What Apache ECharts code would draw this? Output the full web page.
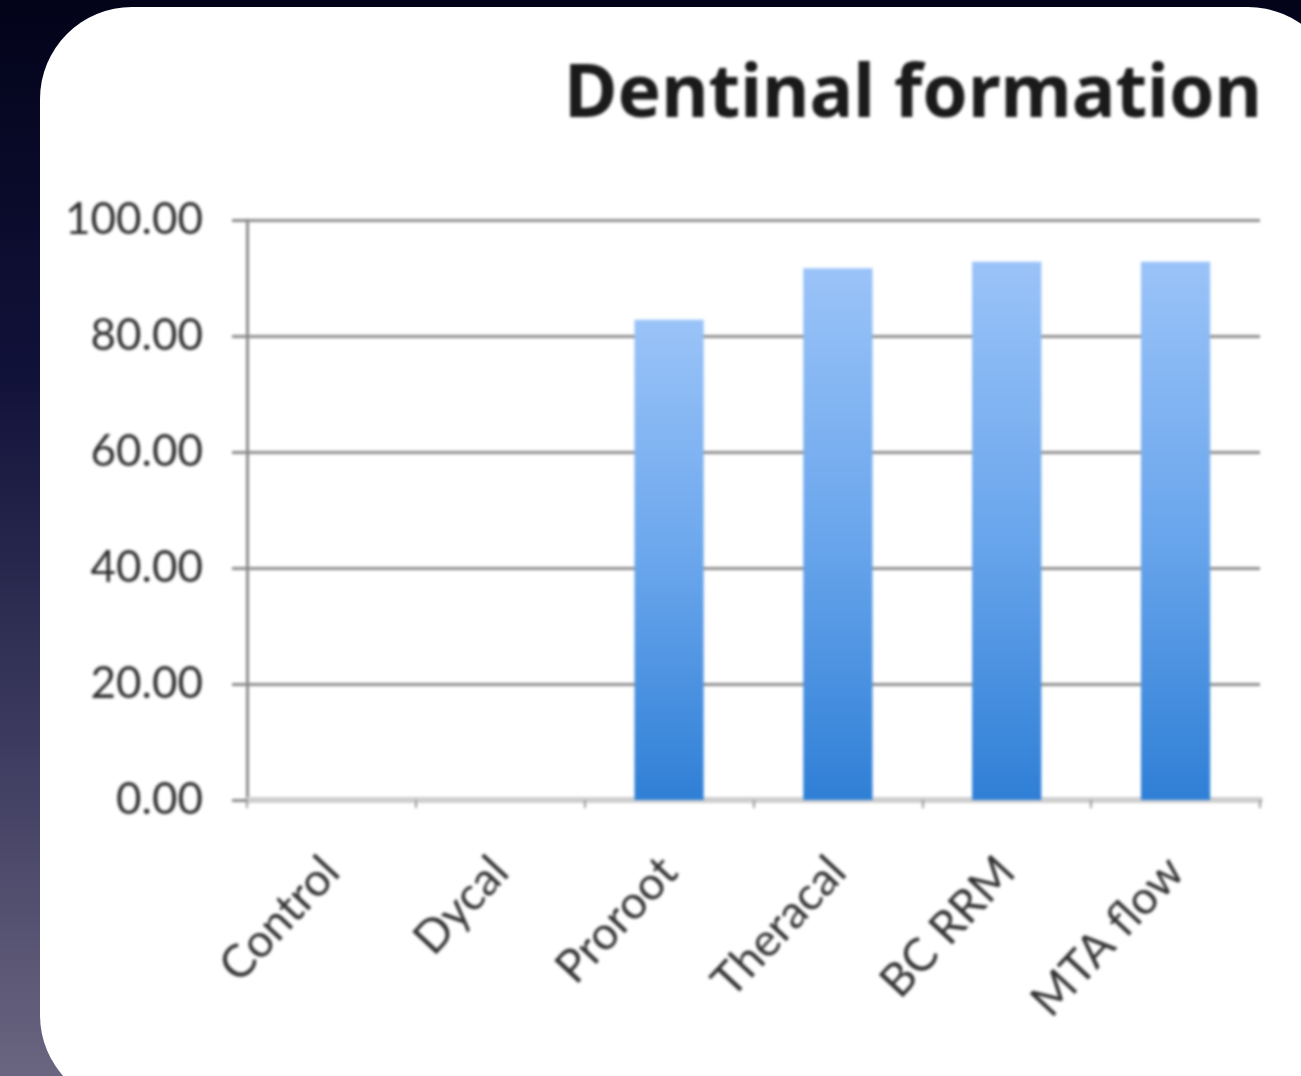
<!DOCTYPE html>
<html>
<head>
<meta charset="utf-8">
<script src="https://cdn.jsdelivr.net/npm/echarts@6/dist/echarts.min.js"></script>
<style>
  html, body { margin: 0; padding: 0; }
  body {
    width: 1301px; height: 1076px; overflow: hidden; position: relative;
    background: linear-gradient(180deg, #03031a 0%, #11123a 35%, #3e3c60 70%, #6a6580 100%);
  }
  #panel {
    position: absolute; left: 40px; top: 7px; width: 1300px; height: 1100px;
    background: #fff; border-radius: 92px;
  }
  #chart { position: absolute; left: 0; top: 0; width: 1301px; height: 1076px; filter: blur(1.4px); }
</style>
</head>
<body>
<div id="panel"></div>
<div id="chart"></div>
<script>
const categories = ['Control', 'Dycal', 'Proroot', 'Theracal', 'BC RRM', 'MTA flow']
const values = [0, 0, 82.8, 91.7, 92.8, 92.8]
const yTicks = [0, 20, 40, 60, 80, 100]

const chart = echarts.init(document.getElementById('chart'))

chart.setOption({
  animation: false,
  backgroundColor: 'transparent',
  title: {
    text: 'Dentinal formation',
    right: 34,
    top: 55,
    textStyle: { fontFamily: 'Noto Sans', fontWeight: 'bold', fontSize: 73, color: '#1a1a1a' }
  },
  grid: { left: 247, right: 41, top: 220, bottom: 276, containLabel: false },
  xAxis: {
    type: 'category',
    data: categories,
    axisLine: { lineStyle: { color: '#cfcfcf', width: 6 } },
    axisTick: { show: true, length: 8, lineStyle: { color: '#999', width: 2 } },
    axisLabel: {
      rotate: 47,
      margin: 64,
      fontFamily: 'Lato',
      fontSize: 46,
      color: '#333'
    }
  },
  yAxis: {
    type: 'value',
    min: yTicks[0],
    max: yTicks[yTicks.length - 1],
    interval: 20,
    axisLine: { show: true, lineStyle: { color: '#8a8a8a', width: 3 } },
    axisTick: { show: true, length: 15, lineStyle: { color: '#8a8a8a', width: 3 } },
    splitLine: { lineStyle: { color: '#8c8c8c', width: 3 } },
    axisLabel: {
      margin: 44,
      fontFamily: 'Lato',
      fontSize: 44,
      color: '#2e2e2e',
      formatter: (v) => v.toFixed(2)
    }
  },
  series: [{
    type: 'bar',
    data: values,
    barWidth: '41%',
    itemStyle: {
      color: new echarts.graphic.LinearGradient(0, 0, 0, 1, [
        { offset: 0, color: '#9ac3f8' },
        { offset: 0.5, color: '#6aa6ec' },
        { offset: 1, color: '#2f7fd6' }
      ])
    }
  }]
})
</script>
</body>
</html>
